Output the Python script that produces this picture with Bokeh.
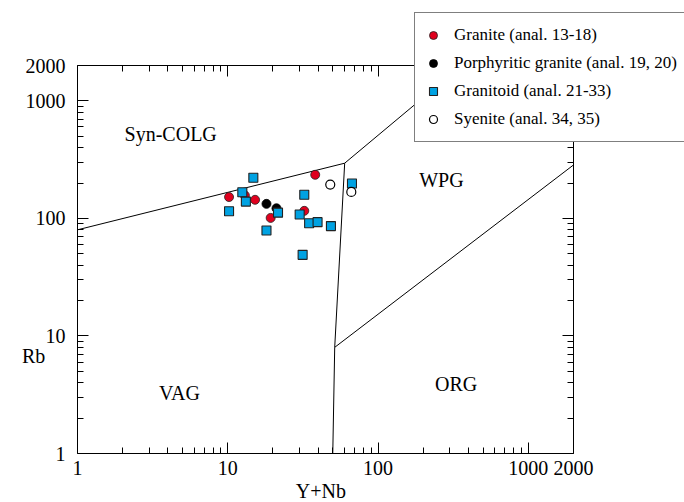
import math
from bokeh.plotting import figure
from bokeh.models import (Range1d, FixedTicker, LogAxis, Legend, LegendItem, Label,
                          CustomJSTickFormatter)
from bokeh.core.properties import value
from bokeh.embed import file_html
from bokeh.resources import INLINE

# ---------------- data ----------------
granite_x = [10.2, 13.0, 15.2, 19.3, 32.3, 38.2]
granite_y = [152, 157, 144, 101, 116, 235]

porph_x = [18.1, 21.1]
porph_y = [133, 122]

granitoid_x = [14.8, 12.5, 13.2, 10.2, 21.6, 18.1, 32.3, 30.1, 34.8, 39.6, 48.6, 31.5, 67.1]
granitoid_y = [222, 167, 139, 115, 112, 79, 159, 108, 91, 93, 86, 49, 198]

syenite_x = [48.1, 66.4]
syenite_y = [194, 168]

series_names = ["Granite (anal. 13-18)", "Porphyritic granite (anal. 19, 20)",
                "Granitoid (anal. 21-33)", "Syenite (anal. 34, 35)"]

# field boundaries (Pearce et al. 1984)
b1_x, b1_y = [1, 60], [80, 295]
b2_x, b2_y = [60, 360], [295, 2000]
b3_x, b3_y = [60, 51.5, 50], [295, 8, 1]
b4_x, b4_y = [51.5, 2000], [8, 285]

field_names = ["Syn-COLG", "VAG", "WPG", "ORG"]
field_x = [4.17, 4.77, 264, 331]
field_y = [525, 3.24, 213, 3.92]

axis_min, axis_max = 1, 2000
tick_vals = [1, 10, 100, 1000, 2000]
tick_labels = ["1", "10", "100", "1000", "2000"]
minor_vals = [2, 3, 4, 5, 6, 7, 8, 9, 20, 30, 40, 50, 60, 70, 80, 90,
              200, 300, 400, 500, 600, 700, 800, 900]

FONT = "Liberation Serif"

# ---------------- layout (pixels) ----------------
W, H = 684, 502
box_left, box_right, box_top, box_bottom = 77, 573, 65, 453
dec_x = (box_right - box_left) / math.log10(axis_max)
dec_y = (box_bottom - box_top) / math.log10(axis_max)
x_start = 10 ** (-box_left / dec_x)
x_end = 10 ** ((W - box_left) / dec_x)
y_start = 10 ** (-(H - box_bottom) / dec_y)
y_end = 10 ** (box_bottom / dec_y)

p = figure(width=W, height=H, x_axis_type="log", y_axis_type="log",
           x_range=Range1d(x_start, x_end), y_range=Range1d(y_start, y_end),
           output_backend="svg", toolbar_location=None,
           min_border=0, min_border_left=0, min_border_right=0,
           min_border_top=0, min_border_bottom=0)
p.grid.visible = False
p.outline_line_color = None
p.background_fill_color = "white"
p.border_fill_color = "white"

ticker = FixedTicker(ticks=tick_vals, minor_ticks=minor_vals)
fmt = CustomJSTickFormatter(args=dict(vals=tick_vals, labs=tick_labels), code="""
for (let i = 0; i < vals.length; i++) {
  if (Math.abs(vals[i] - tick) < 1e-6 * vals[i]) return labs[i];
}
return '';
""")
blank = CustomJSTickFormatter(code="return '';")


def style(ax, labels=True):
    ax.ticker = ticker
    ax.bounds = (axis_min, axis_max)
    ax.axis_line_color = "black"
    ax.axis_line_width = 1
    ax.major_tick_in = 11
    ax.major_tick_out = 0
    ax.minor_tick_in = 6
    ax.minor_tick_out = 0
    ax.major_tick_line_color = "black"
    ax.minor_tick_line_color = "black"
    ax.major_label_text_font = FONT
    ax.major_label_text_font_size = "20px"
    ax.major_label_text_color = "black"
    ax.formatter = fmt if labels else blank


style(p.xaxis[0])
style(p.yaxis[0])
p.xaxis[0].fixed_location = axis_min
p.yaxis[0].fixed_location = axis_min
p.xaxis[0].major_label_standoff = 7
p.yaxis[0].major_label_standoff = 12

top_ax = LogAxis()
right_ax = LogAxis()
style(top_ax, labels=False)
style(right_ax, labels=False)
top_ax.fixed_location = axis_max
right_ax.fixed_location = axis_max
p.add_layout(top_ax, "above")
p.add_layout(right_ax, "right")

# boundaries
for bx, by in [(b1_x, b1_y), (b2_x, b2_y), (b3_x, b3_y), (b4_x, b4_y)]:
    p.line(bx, by, line_color="black", line_width=1)

# field labels
p.text(x=field_x, y=field_y, text=field_names, text_font=value(FONT),
       text_font_size="20px", text_align="center", text_baseline="middle",
       text_color="black")

# data points
r_granite = p.scatter(granite_x, granite_y, marker="circle", size=9,
                      fill_color="#E0001E", line_color="#222222", line_width=0.8)
r_porph = p.scatter(porph_x, porph_y, marker="circle", size=9,
                    fill_color="black", line_color="black", line_width=0.8)
r_granitoid = p.scatter(granitoid_x, granitoid_y, marker="square", size=9,
                        fill_color="#00A2E2", line_color="#222222", line_width=1.1)
r_syenite = p.scatter(syenite_x, syenite_y, marker="circle", size=9,
                      fill_color="white", line_color="black", line_width=1.2)

legend = Legend(items=[LegendItem(label=series_names[0], renderers=[r_granite]),
                       LegendItem(label=series_names[1], renderers=[r_porph]),
                       LegendItem(label=series_names[2], renderers=[r_granitoid]),
                       LegendItem(label=series_names[3], renderers=[r_syenite])],
                location=(414, 360), padding=8, spacing=0, margin=0,
                glyph_width=20, glyph_height=28, label_height=28, label_standoff=11,
                label_text_font=FONT, label_text_font_size="17px",
                label_text_color="black",
                border_line_color="black", border_line_width=1.3,
                background_fill_color="white", background_fill_alpha=1)
p.add_layout(legend)

# axis titles
p.add_layout(Label(x=0.51, y=6.8, text="Rb", text_align="center", text_baseline="middle",
                   text_font=FONT, text_font_size="20px", text_color="black"))
p.add_layout(Label(x=41.7, y=0.4844, text="Y+Nb", text_align="center",
                   text_baseline="middle",
                   text_font=FONT, text_font_size="20px", text_color="black"))

open("out.html", "w").write(file_html(p, INLINE))
